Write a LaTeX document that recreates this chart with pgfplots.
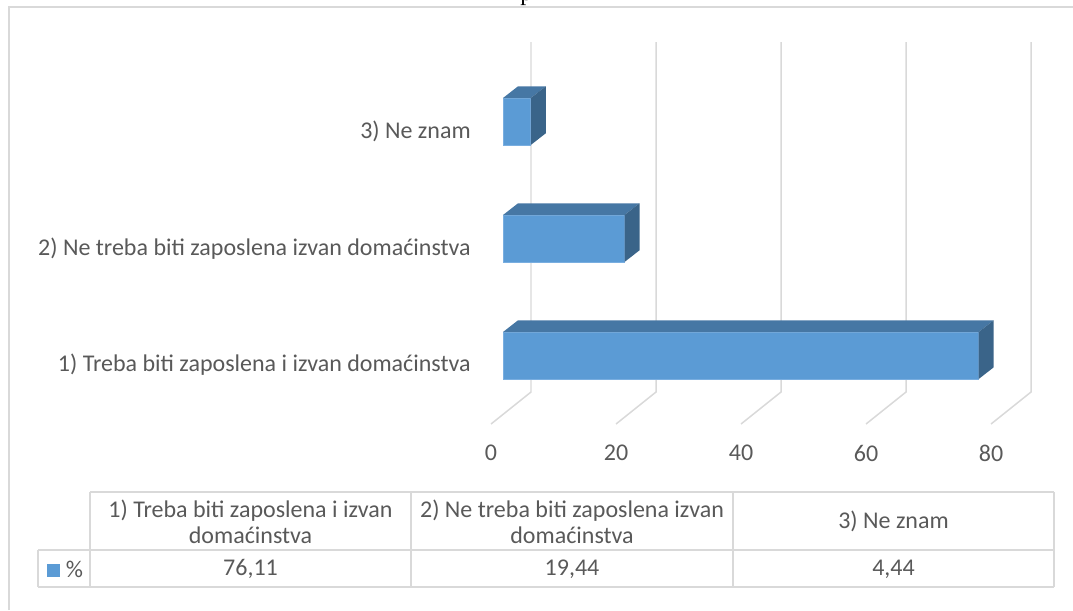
\documentclass[border=0pt]{standalone}
\usepackage{pgfplots}
\pgfplotsset{compat=1.18}
\usepackage{fontspec}
\setmainfont{Carlito}
\newfontfamily\serifttl{Liberation Serif}
\definecolor{barfront}{HTML}{5B9BD5}
\definecolor{bartop}{HTML}{4677A4}
\definecolor{barside}{HTML}{3A6489}
\definecolor{baredge}{HTML}{79AEE0}
\definecolor{gridc}{HTML}{D9D9D9}
\definecolor{txt}{HTML}{595959}
\begin{document}
\begin{tikzpicture}
\begin{axis}[at={(0,0)}, anchor=north west, scale only axis,
  width=804.75pt, height=457.5pt,
  xmin=-80.48, xmax=91.2, ymin=0, ymax=610, y dir=reverse,
  axis lines=none, xtick=\empty, ytick=\empty, clip=false]
% back-wall and floor grid lines (every 20)
\addplot[gridc, line width=1.1pt] coordinates {(4.48,42) (4.48,392) (-1.92,424)};
\addplot[gridc, line width=1.1pt] coordinates {(24.48,42) (24.48,392) (18.08,424)};
\addplot[gridc, line width=1.1pt] coordinates {(44.48,42) (44.48,392) (38.08,424)};
\addplot[gridc, line width=1.1pt] coordinates {(64.48,42) (64.48,392) (58.08,424)};
\addplot[gridc, line width=1.1pt] coordinates {(84.48,42) (84.48,392) (78.08,424)};
% bar 1: 76.11
\addplot[fill=barfront, draw=baredge, line width=0.4pt] coordinates {(0,332) (76.11,332) (76.11,379) (0,379) (0,332)};
\addplot[fill=bartop, draw=none] coordinates {(0,332) (2.4,320.3) (78.51,320.3) (76.11,332)};
\addplot[fill=barside, draw=none] coordinates {(76.11,332) (78.51,320.3) (78.51,367.3) (76.11,379)};
% bar 2: 19.44
\addplot[fill=barfront, draw=baredge, line width=0.4pt] coordinates {(0,215) (19.44,215) (19.44,262) (0,262) (0,215)};
\addplot[fill=bartop, draw=none] coordinates {(0,215) (2.4,203.3) (21.84,203.3) (19.44,215)};
\addplot[fill=barside, draw=none] coordinates {(19.44,215) (21.84,203.3) (21.84,250.3) (19.44,262)};
% bar 3: 4.44
\addplot[fill=barfront, draw=baredge, line width=0.4pt] coordinates {(0,98) (4.44,98) (4.44,145) (0,145) (0,98)};
\addplot[fill=bartop, draw=none] coordinates {(0,98) (2.4,86.3) (6.84,86.3) (4.44,98)};
\addplot[fill=barside, draw=none] coordinates {(4.44,98) (6.84,86.3) (6.84,133.3) (4.44,145)};
\end{axis}
\begin{scope}[x=0.75pt, y=-0.75pt, every node/.style={inner sep=0pt, text=txt, font=\fontsize{18}{19.5}\selectfont}]
\clip (0,0) rectangle (1073,610);
% outer frame
\draw[gridc, line width=1.3pt] (9,610) -- (9,7) -- (1073,7);
% truncated title
\node[anchor=base west, text=black, font=\serifttl\fontsize{18}{20}\selectfont] at (520,0.5) {p};
% category labels
\node[anchor=east] at (471,131) {3) Ne znam};
\node[anchor=east] at (471,249) {2) Ne treba biti zaposlena izvan domaćinstva};
\node[anchor=east] at (471,365) {1) Treba biti zaposlena i izvan domaćinstva};
% value axis labels
\node at (491,453) {0};
\node at (616,453) {20};
\node at (741,453) {40};
\node at (866,453) {60};
\node at (991,453) {80};
% data table
\draw[gridc, line width=1.1pt] (90,492) -- (1054,492);
\draw[gridc, line width=1.1pt] (38,550) -- (1054,550);
\draw[gridc, line width=1.1pt] (38,587) -- (1054,587);
\draw[gridc, line width=1.1pt] (38,550) -- (38,587);
\draw[gridc, line width=1.1pt] (90,492) -- (90,587);
\draw[gridc, line width=1.1pt] (411,492) -- (411,587);
\draw[gridc, line width=1.1pt] (733,492) -- (733,587);
\draw[gridc, line width=1.1pt] (1054,492) -- (1054,587);
\node[align=center] at (250.5,522) {1) Treba biti zaposlena i izvan\\domaćinstva};
\node[align=center] at (572,522) {2) Ne treba biti zaposlena izvan\\domaćinstva};
\node at (893.5,521) {3) Ne znam};
\fill[barfront] (46.5,563.5) rectangle (59.5,576.5);
\node at (74.5,569) {\%};
\node at (250.5,569) {76,11};
\node at (572,569) {19,44};
\node at (893.5,569) {4,44};
\end{scope}
\pgfresetboundingbox
\path[use as bounding box] (0,0) rectangle (804.75pt,-457.5pt);
\end{tikzpicture}
\end{document}
